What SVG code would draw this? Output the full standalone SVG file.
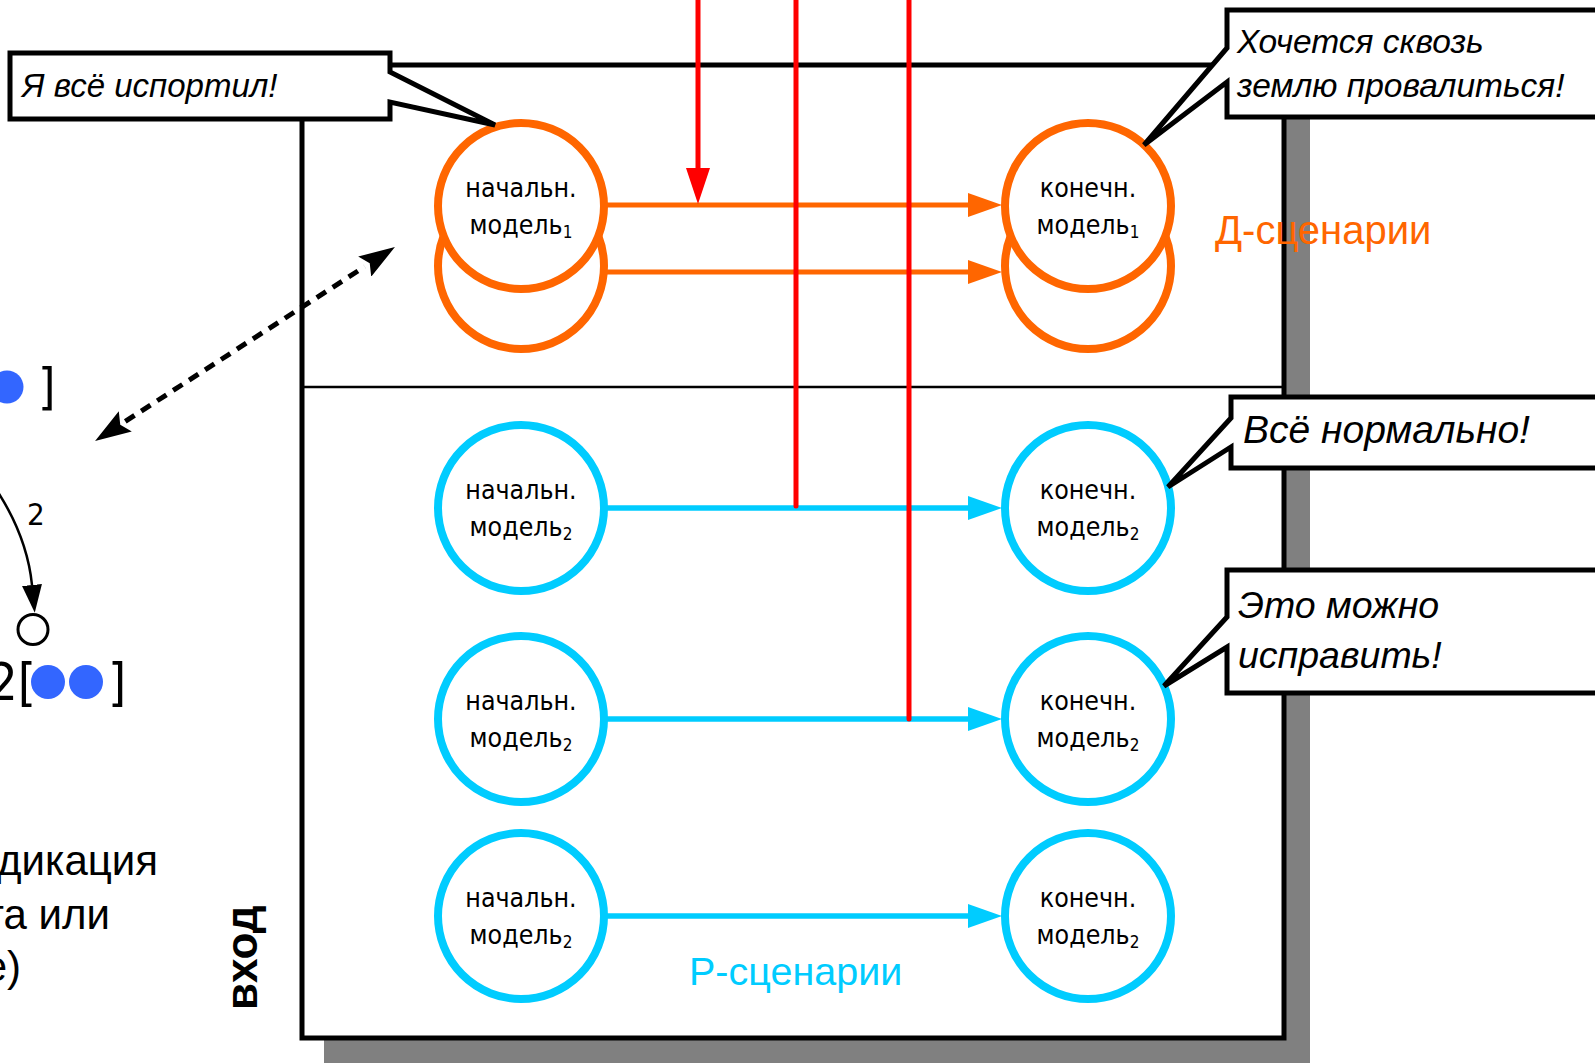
<svg xmlns="http://www.w3.org/2000/svg" width="1595" height="1064" viewBox="0 0 1595 1064">
<style>
  .ntxt{font-family:"DejaVu Sans Condensed","DejaVu Sans",sans-serif;font-stretch:condensed;font-size:26.5px;fill:#000;text-anchor:middle}
  .sub{font-size:17px}
  .orange{fill:#fff;stroke:#FF6600;stroke-width:8}
  .blue{fill:#fff;stroke:#00CCFF;stroke-width:8}
  .callout{fill:#fff;stroke:#000;stroke-width:5;stroke-linejoin:miter}
  .ctxt{font-family:"Liberation Sans",Arial,sans-serif;font-style:italic;fill:#000}
  .sans{font-family:"Liberation Sans",Arial,sans-serif}
  .cond{font-family:"DejaVu Sans Condensed","DejaVu Sans",sans-serif;font-stretch:condensed}
</style>
<defs>
  <marker id="ah-orange" markerWidth="34" markerHeight="24" refX="0" refY="12" orient="auto" markerUnits="userSpaceOnUse"><path d="M0,0 L34,12 L0,24 Z" fill="#FF6600"/></marker>
  <marker id="ah-blue" markerWidth="34" markerHeight="24" refX="0" refY="12" orient="auto" markerUnits="userSpaceOnUse"><path d="M0,0 L34,12 L0,24 Z" fill="#00CCFF"/></marker>
  <marker id="ah-red" markerWidth="36" markerHeight="24" refX="0" refY="12" orient="auto" markerUnits="userSpaceOnUse"><path d="M0,0 L36,12 L0,24 Z" fill="#FF0000"/></marker>
  <marker id="ah-black" markerWidth="36" markerHeight="24" refX="0" refY="12" orient="auto-start-reverse" markerUnits="userSpaceOnUse"><path d="M0,0 L36,12 L0,24 L6,12 Z" fill="#000"/></marker>
  <marker id="ah-small" markerWidth="28" markerHeight="20" refX="0" refY="10" orient="auto" markerUnits="userSpaceOnUse"><path d="M0,0 L28,10 L0,20 Z" fill="#000"/></marker>
</defs>
<rect width="1595" height="1064" fill="#fff"/>

<!-- left partial content -->
<g id="left-fragment">
  <circle cx="7" cy="387" r="16.5" fill="#3366FF"/>
  <text x="38" y="404" class="cond" font-size="50">]</text>
  <text x="27" y="525" class="cond" font-size="31">2</text>
  <circle cx="33" cy="629.5" r="15" fill="#fff" stroke="#000" stroke-width="3"/>
  <text x="-12" y="700" class="cond" font-size="52">2[</text>
  <circle cx="48" cy="682" r="17" fill="#3366FF"/>
  <circle cx="86" cy="682" r="17" fill="#3366FF"/>
  <text x="108" y="700" class="cond" font-size="52">]</text>
  <text class="sans" font-size="42" text-anchor="end"><tspan x="158" y="875">дикация</tspan><tspan x="110" y="929">та или</tspan><tspan x="21" y="981">е)</tspan></text>
</g>

<!-- main frame -->
<g id="frame">
  <rect x="324" y="88" width="986" height="975" fill="#808080"/>
  <rect x="302" y="65" width="982" height="973" fill="#fff" stroke="#000" stroke-width="5"/>
  <line x1="302" y1="387" x2="1284" y2="387" stroke="#000" stroke-width="2.5"/>
  <text transform="translate(257,1010) rotate(-90)" class="sans" font-size="44" font-weight="bold">вход</text>
</g>

<!-- nodes -->
<g id="node-start1-back"><circle cx="521" cy="266" r="83" class="orange"/></g>
<g id="node-start1"><circle cx="521" cy="206" r="83" class="orange"/>
  <text class="ntxt"><tspan x="521" y="197">начальн.</tspan><tspan x="521" y="234">модель<tspan class="sub" dy="4">1</tspan></tspan></text></g>
<g id="node-end1-back"><circle cx="1088" cy="266" r="83" class="orange"/></g>
<g id="node-end1"><circle cx="1088" cy="206" r="83" class="orange"/>
  <text class="ntxt"><tspan x="1088" y="197">конечн.</tspan><tspan x="1088" y="234">модель<tspan class="sub" dy="4">1</tspan></tspan></text></g>

<g id="node-start2a"><circle cx="521" cy="508" r="83" class="blue"/>
  <text class="ntxt"><tspan x="521" y="499">начальн.</tspan><tspan x="521" y="536">модель<tspan class="sub" dy="4">2</tspan></tspan></text></g>
<g id="node-end2a"><circle cx="1088" cy="508" r="83" class="blue"/>
  <text class="ntxt"><tspan x="1088" y="499">конечн.</tspan><tspan x="1088" y="536">модель<tspan class="sub" dy="4">2</tspan></tspan></text></g>
<g id="node-start2b"><circle cx="521" cy="719" r="83" class="blue"/>
  <text class="ntxt"><tspan x="521" y="710">начальн.</tspan><tspan x="521" y="747">модель<tspan class="sub" dy="4">2</tspan></tspan></text></g>
<g id="node-end2b"><circle cx="1088" cy="719" r="83" class="blue"/>
  <text class="ntxt"><tspan x="1088" y="710">конечн.</tspan><tspan x="1088" y="747">модель<tspan class="sub" dy="4">2</tspan></tspan></text></g>
<g id="node-start2c"><circle cx="521" cy="916" r="83" class="blue"/>
  <text class="ntxt"><tspan x="521" y="907">начальн.</tspan><tspan x="521" y="944">модель<tspan class="sub" dy="4">2</tspan></tspan></text></g>
<g id="node-end2c"><circle cx="1088" cy="916" r="83" class="blue"/>
  <text class="ntxt"><tspan x="1088" y="907">конечн.</tspan><tspan x="1088" y="944">модель<tspan class="sub" dy="4">2</tspan></tspan></text></g>

<!-- connectors -->
<g id="connectors" fill="none">
  <line x1="607" y1="205" x2="968" y2="205" stroke="#FF6600" stroke-width="5" marker-end="url(#ah-orange)"/>
  <line x1="605" y1="272" x2="968" y2="272" stroke="#FF6600" stroke-width="5" marker-end="url(#ah-orange)"/>
  <line x1="607" y1="508" x2="968" y2="508" stroke="#00CCFF" stroke-width="5.5" marker-end="url(#ah-blue)"/>
  <line x1="607" y1="719" x2="968" y2="719" stroke="#00CCFF" stroke-width="5.5" marker-end="url(#ah-blue)"/>
  <line x1="607" y1="916" x2="968" y2="916" stroke="#00CCFF" stroke-width="5.5" marker-end="url(#ah-blue)"/>
  <line x1="698" y1="-5" x2="698" y2="168" stroke="#FF0000" stroke-width="5" marker-end="url(#ah-red)"/>
  <line x1="796" y1="-5" x2="796" y2="506" stroke="#FF0000" stroke-width="5" stroke-linecap="round"/>
  <line x1="909" y1="-5" x2="909" y2="719" stroke="#FF0000" stroke-width="5" stroke-linecap="round"/>
  <line x1="125.3" y1="421.4" x2="364.7" y2="266.6" stroke="#000" stroke-width="5" stroke-dasharray="11 8" marker-start="url(#ah-black)" marker-end="url(#ah-black)"/>
  <path d="M-6,486 Q27,535 32,585" stroke="#000" stroke-width="2.5" marker-end="url(#ah-small)"/>
</g>

<!-- labels -->
<text x="1215" y="244" class="sans" font-size="40" fill="#FF6600">Д-сценарии</text>
<text x="689" y="985" class="sans" font-size="39.5" fill="#00CCFF">Р-сценарии</text>

<!-- callouts -->
<g id="callout-1">
  <path class="callout" d="M10,53 L390,53 L390,72 L495,125 L390,102 L390,119 L10,119 Z"/>
  <text x="22" y="97" class="ctxt" font-size="33">Я всё испортил!</text>
</g>
<g id="callout-2">
  <path class="callout" d="M1227,10 L1610,10 L1610,117 L1227,117 L1227,82 L1144,145 L1227,48 Z"/>
  <text class="ctxt" font-size="33.5"><tspan x="1237" y="53">Хочется сквозь</tspan><tspan x="1237" y="97">землю провалиться!</tspan></text>
</g>
<g id="callout-3">
  <path class="callout" d="M1231,397 L1610,397 L1610,468 L1231,468 L1231,447 L1168,487 L1231,418 Z"/>
  <text x="1243" y="443" class="ctxt" font-size="39">Всё нормально!</text>
</g>
<g id="callout-4">
  <path class="callout" d="M1227,570 L1610,570 L1610,693 L1227,693 L1227,647 L1164,686 L1227,617 Z"/>
  <text class="ctxt" font-size="37.5"><tspan x="1238" y="618">Это можно</tspan><tspan x="1238" y="668">исправить!</tspan></text>
</g>
</svg>
